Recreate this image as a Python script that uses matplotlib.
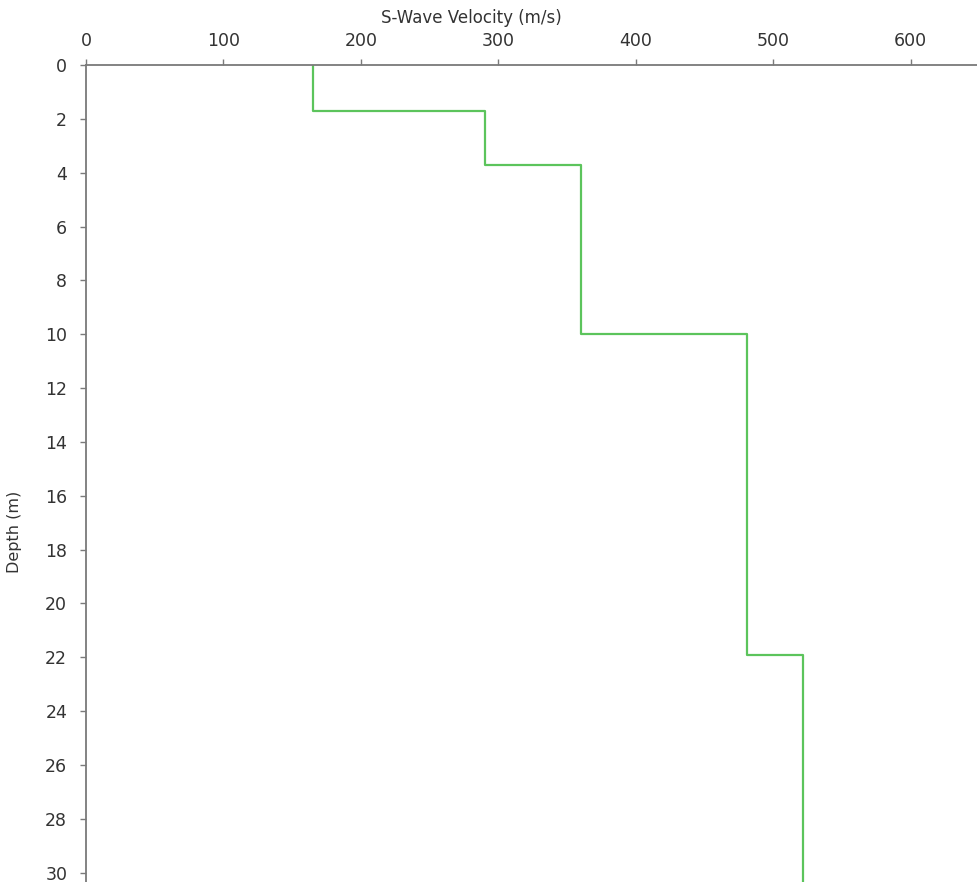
import matplotlib
matplotlib.use("Agg")
import matplotlib.pyplot as plt

# layer boundaries (m) and shear-wave velocity of each layer (m/s)
depth_top = [0.0, 1.7, 3.7, 10.0, 21.9]
depth_bottom = [1.7, 3.7, 10.0, 21.9, 31.0]
vs = [165, 290, 360, 481, 522]

xticks = [0, 100, 200, 300, 400, 500, 600]
yticks = list(range(0, 31, 2))

# build the step profile
xs, ys = [], []
for v, t, b in zip(vs, depth_top, depth_bottom):
    xs += [v, v]
    ys += [t, b]

fig = plt.figure(figsize=(9.78, 8.82), dpi=100)
ax = fig.add_axes([0.0879, 0.0, 0.9121, 0.9263])

ax.plot(xs, ys, color="#5cc45c", lw=1.6)

ax.set_xlim(0, 649)
ax.set_ylim(30.35, 0)
ax.xaxis.tick_top()
ax.xaxis.set_label_position("top")
ax.set_xticks(xticks)
ax.set_yticks(yticks)

for side in ["right", "bottom"]:
    ax.spines[side].set_visible(False)
for side in ["left", "top"]:
    ax.spines[side].set_color("#7a7a7a")
    ax.spines[side].set_linewidth(1.3)

ax.tick_params(axis="both", direction="out", length=4.5, width=1.0,
               color="#7a7a7a", labelsize=12.5, labelcolor="#333333")
ax.tick_params(axis="x", pad=6)
ax.tick_params(axis="y", pad=9)

ax.set_xlabel("S-Wave Velocity (m/s)", fontsize=12, color="#333333")
ax.xaxis.set_label_coords(0.432, 1.052)
ax.set_ylabel("Depth (m)", fontsize=11.5, color="#333333")
ax.yaxis.set_label_coords(-0.072, 0.428)

fig.savefig("out.png", dpi=100)
